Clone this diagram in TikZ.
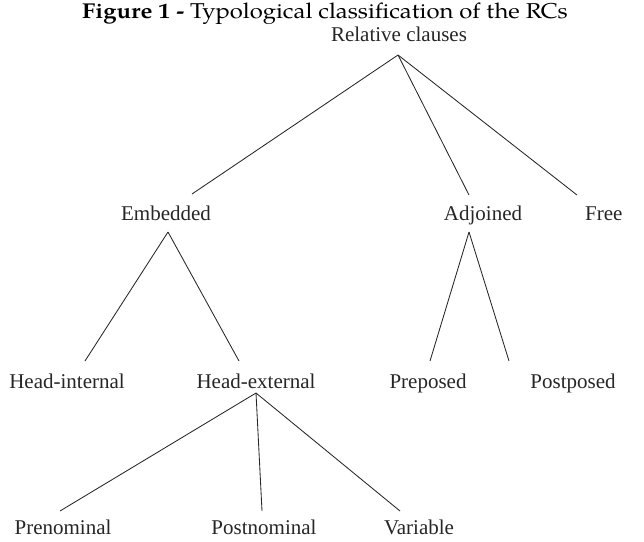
\documentclass[tikz,border=0pt]{standalone}
\usepackage{fontspec}
\setmainfont{Liberation Serif}
\newfontfamily\captionfont{TeX Gyre Pagella}
\begin{document}
\begin{tikzpicture}[x=1pt,y=-1pt,
  label/.style={inner sep=0pt,anchor=base,font=\fontsize{21}{24}\selectfont,text=black!85},
  branch/.style={draw=black!85,line width=0.85pt}]
\useasboundingbox (0,0) rectangle (644,541);

% caption
\node[inner sep=0pt,anchor=base,font=\captionfont\fontsize{21.5}{24}\selectfont] (cap) at (325,18)
  {\scalebox{1.11}[1]{\textbf{Figure 1 -} Typological classification of the RCs}};

% tree labels
\node[label] (rc)   at (399,41)  {Relative clauses};
\node[label] (emb)  at (166,220) {Embedded};
\node[label] (adj)  at (483,220) {Adjoined};
\node[label,anchor=base west] (free) at (585,220) {Free};
\node[label] (hint) at (67,388)  {Head-internal};
\node[label] (hext) at (256,388) {Head-external};
\node[label] (prep) at (428,388) {Preposed};
\node[label] (post) at (573,388) {Postposed};
\node[label] (pren) at (63,534)  {Prenominal};
\node[label] (postn) at (264,534) {Postnominal};
\node[label] (var)  at (419,534) {Variable};

% branch points
\coordinate (rc-a)   at (398,55);
\coordinate (emb-t)  at (192,194);
\coordinate (adj-t)  at (469,195);
\coordinate (free-t) at (577,195);
\coordinate (emb-a)  at (168,232);
\coordinate (hint-t) at (85,361);
\coordinate (hext-t) at (239,361);
\coordinate (adj-a)  at (469,232);
\coordinate (prep-t) at (430,361);
\coordinate (post-t) at (509,361);
\coordinate (hext-a) at (256,393);
\coordinate (pren-t) at (60,511);
\coordinate (postn-t) at (262,511);
\coordinate (var-t)  at (400,511);

% branches
\draw[branch] (rc-a) -- (emb-t);
\draw[branch] (rc-a) -- (adj-t);
\draw[branch] (rc-a) -- (free-t);
\draw[branch] (emb-a) -- (hint-t);
\draw[branch] (emb-a) -- (hext-t);
\draw[branch] (adj-a) -- (prep-t);
\draw[branch] (adj-a) -- (post-t);
\draw[branch] (hext-a) -- (pren-t);
\draw[branch] (hext-a) -- (postn-t);
\draw[branch] (hext-a) -- (var-t);
\end{tikzpicture}
\end{document}
